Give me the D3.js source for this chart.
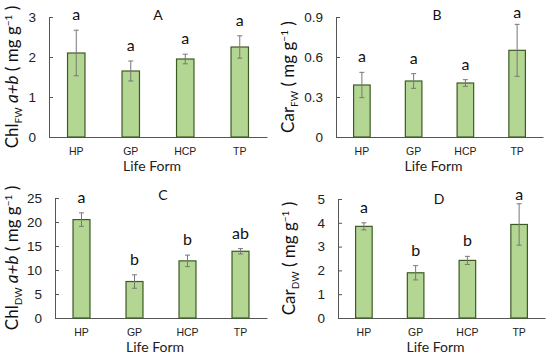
<!DOCTYPE html>
<html lang="en">
  <head>
    <meta charset="UTF-8">
    <title>Pigments by life form</title>
    <script src="https://d3js.org/d3.v7.min.js"></script>
    <style>
      body { margin: 0; background: white; }
      svg { font-family: Lato, "Open Sans", sans-serif; }
    </style>
  </head>
  <body>
    <script>
      const lifeForms = ["HP", "GP", "HCP", "TP"];

      // A: Chl a+b, fresh weight
      const chlFw = [2.1, 1.65, 1.95, 2.25];
      const chlFwErr = [0.57, 0.25, 0.12, 0.28];
      const chlFwLetters = ["a", "a", "a", "a"];
      const chlFwTicks = [0, 1, 2, 3];

      // B: carotenoids, fresh weight
      const carFw = [0.39, 0.42, 0.405, 0.65];
      const carFwErr = [0.095, 0.055, 0.025, 0.195];
      const carFwLetters = ["a", "a", "a", "a"];
      const carFwTicks = [0, 0.3, 0.6, 0.9];

      // C: Chl a+b, dry weight
      const chlDw = [20.5, 7.6, 11.9, 13.9];
      const chlDwErr = [1.4, 1.4, 1.2, 0.55];
      const chlDwLetters = ["a", "b", "b", "ab"];
      const chlDwTicks = [0, 5, 10, 15, 20, 25];

      // D: carotenoids, dry weight
      const carDw = [3.85, 1.9, 2.42, 3.93];
      const carDwErr = [0.15, 0.3, 0.17, 0.87];
      const carDwLetters = ["a", "b", "b", "a"];
      const carDwTicks = [0, 1, 2, 3, 4, 5];

      const svg = d3.select("body").append("svg")
                    .attr("width", 550)
                    .attr("height", 361);

      const panels = [
        {tag: "A", vals: chlFw, err: chlFwErr, letters: chlFwLetters, ticks: chlFwTicks,
         fmt: d3.format("d"), name: "Chl", sub: "FW", ab: true,
         x0: 49, x1: 267, y0: 137, y1: 17, titleX: 18, tagX: 158, tagY: 15},
        {tag: "B", vals: carFw, err: carFwErr, letters: carFwLetters, ticks: carFwTicks,
         fmt: d => d === 0 ? "0" : d3.format(".1f")(d), name: "Car", sub: "FW", ab: false,
         x0: 336, x1: 543, y0: 137, y1: 17, titleX: 294, tagX: 437, tagY: 15},
        {tag: "C", vals: chlDw, err: chlDwErr, letters: chlDwLetters, ticks: chlDwTicks,
         fmt: d3.format("d"), name: "Chl", sub: "DW", ab: true,
         x0: 55, x1: 267, y0: 318, y1: 198, titleX: 18, tagX: 163, tagY: 195},
        {tag: "D", vals: carDw, err: carDwErr, letters: carDwLetters, ticks: carDwTicks,
         fmt: d3.format("d"), name: "Car", sub: "DW", ab: false,
         x0: 338, x1: 545, y0: 318, y1: 199, titleX: 295, tagX: 439, tagY: 199}
      ];

      const fill = "#b4d693";
      const edge = "#3d5a25";
      const axisColor = "#555";

      panels.forEach(p => {
        const g = svg.append("g");
        const xScale = d3.scaleBand().domain(lifeForms).range([p.x0, p.x1]).paddingInner(0.68).paddingOuter(0.34);
        const yScale = d3.scaleLinear().domain([0, d3.max(p.ticks)]).range([p.y0, p.y1]);

        // y axis, ticks pointing inward
        const yAxis = g.append("g")
                       .attr("transform", `translate(${p.x0},0)`)
                       .call(d3.axisLeft(yScale).tickValues(p.ticks).tickSize(-4).tickPadding(13).tickFormat(p.fmt));
        yAxis.select(".domain").attr("stroke", axisColor);
        yAxis.selectAll(".tick line").attr("stroke", axisColor);
        yAxis.selectAll("text").style("font-size", "13.5px").attr("fill", "#222");

        // x axis: line only, labels below
        const xAxis = g.append("g")
                       .attr("transform", `translate(0,${p.y0})`)
                       .call(d3.axisBottom(xScale).tickSize(0).tickPadding(11));
        xAxis.select(".domain").attr("stroke", axisColor);
        xAxis.selectAll("text").style("font-size", "10.5px").attr("fill", "#222");

        g.append("text")
         .attr("x", (p.x0 + p.x1) / 2 - 6)
         .attr("y", p.y0 + 34)
         .attr("text-anchor", "middle")
         .style("font-size", "14px")
         .attr("fill", "#222")
         .text("Life Form");

        // bars
        g.selectAll("rect.bar")
         .data(p.vals)
         .enter()
         .append("rect")
         .attr("class", "bar")
         .attr("x", (d, i) => xScale(lifeForms[i]))
         .attr("y", d => yScale(d))
         .attr("width", xScale.bandwidth())
         .attr("height", d => p.y0 - yScale(d))
         .attr("fill", fill)
         .attr("stroke", edge)
         .attr("stroke-width", 1.2);

        // error bars
        const cx = i => xScale(lifeForms[i]) + xScale.bandwidth() / 2;
        const eb = g.selectAll("g.err")
                    .data(p.vals)
                    .enter()
                    .append("g")
                    .attr("stroke", "#777")
                    .attr("stroke-width", 1);
        eb.append("line")
          .attr("x1", (d, i) => cx(i)).attr("x2", (d, i) => cx(i))
          .attr("y1", (d, i) => yScale(d - p.err[i]))
          .attr("y2", (d, i) => yScale(d + p.err[i]));
        eb.append("line")
          .attr("x1", (d, i) => cx(i) - 2.5).attr("x2", (d, i) => cx(i) + 2.5)
          .attr("y1", (d, i) => yScale(d + p.err[i]))
          .attr("y2", (d, i) => yScale(d + p.err[i]));
        eb.append("line")
          .attr("x1", (d, i) => cx(i) - 2.5).attr("x2", (d, i) => cx(i) + 2.5)
          .attr("y1", (d, i) => yScale(d - p.err[i]))
          .attr("y2", (d, i) => yScale(d - p.err[i]));

        // significance letters (kept inside the picture)
        g.selectAll("text.sig")
         .data(p.vals)
         .enter()
         .append("text")
         .attr("class", "sig")
         .attr("x", (d, i) => cx(i))
         .attr("y", (d, i) => Math.max(yScale(d + p.err[i]) - 10, p.y1 + 1))
         .attr("text-anchor", "middle")
         .style("font-size", "16px")
         .attr("fill", "#111")
         .text((d, i) => p.letters[i]);

        // panel tag
        g.append("text")
         .attr("x", p.tagX)
         .attr("y", p.tagY + 5)
         .attr("text-anchor", "middle")
         .style("font-size", "14px")
         .attr("fill", "#111")
         .text(p.tag);

        // y title with sub/superscripts
        const yc = (p.y0 + p.y1) / 2;
        const t = g.append("text")
                   .attr("transform", `translate(${p.titleX},${yc}) rotate(-90)`)
                   .attr("text-anchor", "middle")
                   .style("font-size", "17px")
                   .attr("fill", "#111");
        t.append("tspan").text(p.name);
        t.append("tspan").attr("dy", 4).style("font-size", "10px").text(p.sub);
        if (p.ab) {
          t.append("tspan").attr("dy", -4).text(" ");
          t.append("tspan").style("font-style", "italic").text("a+b");
          t.append("tspan").text(" ( mg g");
        } else {
          t.append("tspan").attr("dy", -4).text(" ( mg g");
        }
        t.append("tspan").attr("dy", -6).style("font-size", "10px").text("−1");
        t.append("tspan").attr("dy", 6).text(" )");
      });
    </script>
  </body>
</html>
